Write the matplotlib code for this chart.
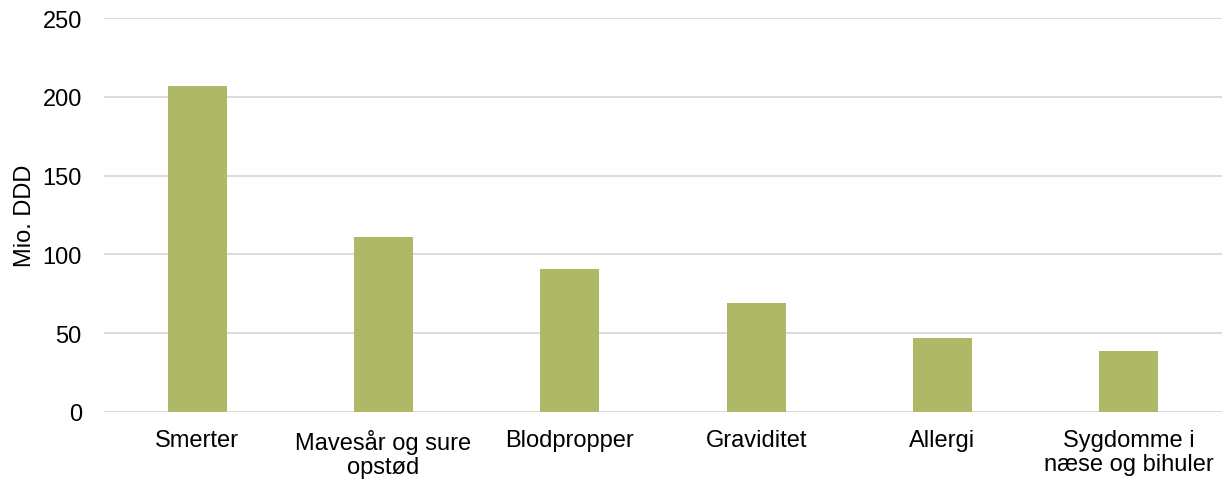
import matplotlib
matplotlib.use("Agg")
import matplotlib.pyplot as plt

categories = ["Smerter", "Mavesår og sure\nopstød", "Blodpropper", "Graviditet", "Allergi", "Sygdomme i\nnæse og bihuler"]
values = [207, 111, 91, 69, 47, 39]
yticks = [0, 50, 100, 150, 200, 250]

plt.rcParams['font.family'] = ['Liberation Sans', 'DejaVu Sans']
fig = plt.figure(figsize=(12.28, 4.81), dpi=100)
ax = fig.add_axes([104/1228, 1-413/481, (1222-104)/1228, (413-19)/481])
x = list(range(len(categories)))
ax.bar(x, values, width=0.317, color="#AFB866", zorder=3)
ax.set_xlim(-0.5, len(categories)-0.5)
ax.set_ylim(0, 250)
ax.set_yticks(yticks)
ax.set_xticks(x)
ax.set_xticklabels(categories, fontsize=17, linespacing=1.15)
ax.tick_params(axis='y', labelsize=17, length=0, pad=16)
ax.tick_params(axis='x', length=0, pad=12)
ax.grid(axis='y', color="#D9D9D9", linewidth=1.3, zorder=0)
for s in ax.spines.values():
    s.set_visible(False)
ax.set_ylabel("Mio. DDD", fontsize=17)
ax.yaxis.set_label_coords(-0.061, 0.5)
fig.savefig("out.png", dpi=100)
